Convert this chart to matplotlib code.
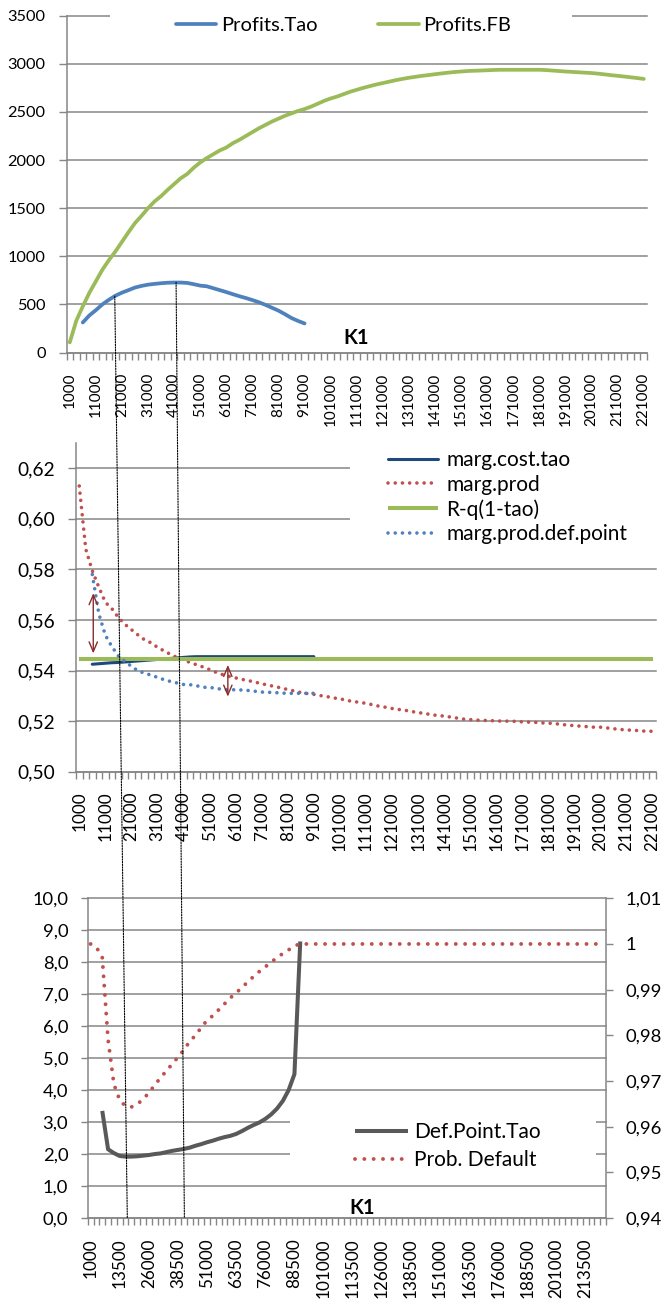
import numpy as np
import matplotlib.pyplot as plt
from matplotlib.patches import Rectangle, ConnectionPatch

plt.rcParams['font.family'] = ['Lato', 'DejaVu Sans']

W, H = 661, 1304
GRID = '#868686'
BLUE = '#4F81BD'
GREEN = '#9BBB59'
RED = '#C0504D'
NAVY = '#1F497D'
DARKGRAY = '#595959'
ARROW = '#8B2C2C'

# K1 categories (same for the three charts)
k1 = list(range(1000, 221001, 2500))
# series that only exist while the Tao contract is defined
k1_tao = list(range(6000, 91001, 2500))

profits_fb = [105, 330, 480, 620, 740, 860, 960, 1050, 1150, 1250,
              1345, 1420, 1500, 1570, 1625, 1690, 1750, 1810, 1855, 1920,
              1975, 2020, 2060, 2100, 2130, 2175, 2210, 2250, 2290, 2330,
              2365, 2400, 2430, 2460, 2485, 2510, 2530, 2555, 2585, 2615,
              2640, 2660, 2685, 2710, 2730, 2750, 2768, 2785, 2800, 2815,
              2830, 2843, 2855, 2865, 2875, 2883, 2892, 2900, 2908, 2915,
              2920, 2925, 2928, 2930, 2933, 2936, 2938, 2938, 2938, 2938,
              2938, 2938, 2938, 2935, 2930, 2925, 2920, 2916, 2912, 2908,
              2904, 2898, 2890, 2882, 2875, 2868, 2860, 2852, 2843]
profits_tao = [312, 385, 440, 500, 548, 590, 622, 648, 675, 692,
               705, 713, 720, 725, 727, 727, 723, 710, 695, 688,
               668, 648, 628, 606, 585, 566, 545, 522, 495, 465,
               435, 398, 358, 328, 302]

marg_cost_tao = [0.5425, 0.5427, 0.5429, 0.5431, 0.5432, 0.5434, 0.5436, 0.5438,
                 0.5440, 0.5442, 0.5444, 0.5446, 0.5448, 0.5450, 0.5452, 0.5454,
                 0.5455, 0.5455, 0.5455, 0.5455, 0.5455, 0.5455, 0.5455, 0.5455,
                 0.5455, 0.5455, 0.5455, 0.5455, 0.5455, 0.5455, 0.5455, 0.5455,
                 0.5455, 0.5455, 0.5455]
marg_prod = [0.613, 0.588, 0.5795, 0.573, 0.567, 0.5645, 0.561, 0.5583, 0.5562, 0.5541,
             0.5522, 0.551, 0.5492, 0.5478, 0.5464, 0.5452, 0.5442, 0.5432, 0.5423, 0.5414,
             0.5404, 0.5393, 0.5384, 0.5377, 0.5371, 0.5365, 0.536, 0.5354, 0.5348, 0.5342,
             0.5337, 0.5331, 0.5325, 0.5319, 0.5313, 0.5309, 0.5306, 0.5301, 0.5297, 0.5292,
             0.5288, 0.5283, 0.5277, 0.5275, 0.527, 0.5265, 0.5259, 0.5255, 0.525, 0.5246,
             0.5243, 0.5238, 0.5234, 0.523, 0.5226, 0.5222, 0.522, 0.5216, 0.5212, 0.5208,
             0.5206, 0.5204, 0.5203, 0.5202, 0.5201, 0.52, 0.52, 0.5199, 0.5197, 0.5196,
             0.5195, 0.5193, 0.5192, 0.519, 0.5187, 0.5184, 0.5182, 0.518, 0.5178, 0.5176,
             0.5176, 0.5173, 0.517, 0.5167, 0.5165, 0.5164, 0.5162, 0.516, 0.516]
r_q_tao = [0.5447] * len(k1)
marg_prod_def_point = [0.578, 0.5625, 0.554, 0.5495, 0.5458, 0.5436, 0.5417, 0.5399, 0.539, 0.5382,
                       0.5373, 0.5364, 0.5357, 0.5351, 0.5345, 0.5344, 0.534, 0.5334, 0.5333, 0.533,
                       0.5325, 0.5324, 0.5324, 0.5323, 0.5321, 0.5318, 0.5315, 0.5314, 0.5313, 0.5311,
                       0.531, 0.531, 0.531, 0.531, 0.531]

def_point_tao = [3.35, 2.15, 2.03, 1.94, 1.92, 1.92, 1.93, 1.95, 1.97, 2.0,
                 2.02, 2.06, 2.1, 2.13, 2.16, 2.2, 2.26, 2.31, 2.37, 2.42,
                 2.48, 2.53, 2.57, 2.63, 2.72, 2.82, 2.91, 2.99, 3.1, 3.24,
                 3.42, 3.66, 4.0, 4.5, 8.65]
prob_default = [1.0, 0.9993, 0.997, 0.979, 0.9693, 0.9658, 0.9645, 0.9643, 0.9649, 0.966,
                0.9674, 0.9691, 0.9707, 0.9722, 0.9737, 0.9752, 0.9768, 0.9786, 0.98, 0.9817,
                0.9833, 0.9843, 0.9856, 0.9869, 0.9882, 0.9893, 0.9905, 0.9917, 0.9929, 0.994,
                0.995, 0.996, 0.997, 0.9979, 0.9987, 0.9996] + [1.0] * 53

# hand drawn guides: (K1 on top chart, profit there, K1 on bottom chart)
guides = [(18250, 585, 16750), (41750, 728, 41250)]
# double arrows on the marginal chart: (K1, upper, lower)
gap_arrows = [(6375, 0.5706, 0.5468), (58000, 0.5422, 0.5297)]


def pos(values):
    return [k1.index(v) for v in values]


def kpos(k):
    return (k - k1[0]) / (k1[1] - k1[0])


def box(left, top, right, bottom):
    return [left / W, 1 - bottom / H, (right - left) / W, (bottom - top) / H]


def mask(ax, left, top, right, bottom):
    # white legend area hiding the gridlines behind it
    r = Rectangle((left / W, 1 - bottom / H), (right - left) / W, (bottom - top) / H,
                  transform=ax.figure.transFigure, facecolor='white', edgecolor='none',
                  zorder=1.5, clip_on=False)
    ax.add_patch(r)


def styleAxes(ax, ylim, yticks, ylabels, every, fs_x, fs_y):
    n = len(k1)
    ax.set_xlim(-0.5, n - 0.5)
    ax.set_ylim(*ylim)
    ax.set_yticks(yticks)
    ax.set_yticklabels(ylabels)
    ax.set_xticks(np.arange(-0.5, n, 1.0))
    ax.set_xticklabels([])
    idx = list(range(0, n, every))
    ax.set_xticks(idx, minor=True)
    ax.set_xticklabels([str(k1[i]) for i in idx], minor=True)
    ax.tick_params(axis='x', which='major', length=5, width=1, color=GRID)
    ax.tick_params(axis='x', which='minor', length=0, pad=14.5, labelsize=fs_x,
                   labelrotation=90)
    ax.tick_params(axis='y', length=6, width=1, color=GRID, labelsize=fs_y, pad=9)
    ax.grid(axis='y', color=GRID, lw=1.1)
    for g in ax.yaxis.get_gridlines():
        g.set_clip_on(False)
    ax.set_axisbelow(True)
    for s in ['top', 'right']:
        ax.spines[s].set_visible(False)
    for s in ['left', 'bottom']:
        ax.spines[s].set_color(GRID)
        ax.spines[s].set_linewidth(1.1)


fig = plt.figure(figsize=(W / 100, H / 100), dpi=100)

# ---- profits ----
ax1 = fig.add_axes(box(66.5, 15.7, 647, 352.5))
styleAxes(ax1, (0, 3500), list(range(0, 3501, 500)),
          [str(v) for v in range(0, 3501, 500)], 4, 11, 11.8)
ax1.plot(pos(k1_tao), profits_tao, color=BLUE, lw=2.7, solid_capstyle='round',
         solid_joinstyle='round', label='Profits.Tao')
ax1.plot(pos(k1), profits_fb, color=GREEN, lw=2.7, solid_capstyle='round',
         solid_joinstyle='round', label='Profits.FB')
mask(ax1, 110, 4, 572, 48)
ax1.legend(loc='upper left', bbox_to_anchor=(176 / W, 1 - 17 / H),
           bbox_transform=fig.transFigure, ncol=2, frameon=False, fontsize=14.5,
           borderpad=0, borderaxespad=0, handlelength=2.0, handletextpad=0.25,
           columnspacing=3.0)
ax1.text(0.499, 0.012, 'K1', transform=ax1.transAxes, ha='center', va='bottom',
         fontsize=14.5, fontweight='bold')

# ---- marginal values ----
ax2 = fig.add_axes(box(76, 443, 656, 771.7))
mid_ticks = [0.50, 0.52, 0.54, 0.56, 0.58, 0.60, 0.62]
styleAxes(ax2, (0.50, 0.63), mid_ticks, [f'{v:.2f}'.replace('.', ',') for v in mid_ticks],
          4, 12.3, 13.8)
dot_mid = (0, (0.001, 2.0))
ax2.plot(pos(k1_tao), marg_cost_tao, color=NAVY, lw=2.2, solid_capstyle='round',
         label='marg.cost.tao')
ax2.plot(pos(k1), marg_prod, color=RED, lw=2.6, linestyle=dot_mid,
         dash_capstyle='round', label='marg.prod')
ax2.plot(pos(k1), r_q_tao, color=GREEN, lw=2.9, solid_capstyle='butt', label='R-q(1-tao)')
ax2.plot(pos(k1_tao), marg_prod_def_point, color=BLUE, lw=2.6, linestyle=dot_mid,
         dash_capstyle='round', label='marg.prod.def.point')
for k, top, bot in gap_arrows:
    ax2.annotate('', xy=(kpos(k), top), xytext=(kpos(k), bot),
                 arrowprops=dict(arrowstyle='<->,head_length=0.7,head_width=0.3',
                                 color=ARROW, lw=1.0, shrinkA=0, shrinkB=0), zorder=6)
mask(ax2, 350, 446, 657, 563)
ax2.legend(loc='upper left', bbox_to_anchor=(388 / W, 1 - 450 / H),
           bbox_transform=fig.transFigure, frameon=False, fontsize=15,
           borderpad=0, borderaxespad=0, handlelength=2.4, handletextpad=0.4,
           labelspacing=0.22)

# paper behind the third chart
fig.add_artist(Rectangle((0, 0), 1, 1 - 851 / H, transform=fig.transFigure,
                         facecolor='white', edgecolor='none', zorder=1))

# ---- default point / probability ----
ax3 = fig.add_axes(box(87.7, 898.3, 606, 1218))
ax3.set_zorder(2)
left_ticks = list(range(0, 11))
styleAxes(ax3, (0, 10), left_ticks, [f'{v:.1f}'.replace('.', ',') for v in left_ticks],
          5, 12.3, 13.2)
ax3.tick_params(axis='y', length=5)
ax3.plot(pos(k1_tao), def_point_tao, color=DARKGRAY, lw=2.9, solid_capstyle='butt',
         solid_joinstyle='round', label='Def.Point.Tao')
mask(ax3, 290, 1113, 596, 1179)

ax3r = ax3.twinx()
ax3r.set_zorder(3)
right_ticks = [0.94, 0.95, 0.96, 0.97, 0.98, 0.99, 1.00, 1.01]
ax3r.set_ylim(0.94, 1.01)
ax3r.set_yticks(right_ticks)
ax3r.set_yticklabels(['0,94', '0,95', '0,96', '0,97', '0,98', '0,99', '1', '1,01'])
ax3r.tick_params(axis='y', length=5, width=1, color=GRID, labelsize=13.3, pad=9)
for s in ['top', 'left', 'bottom']:
    ax3r.spines[s].set_visible(False)
ax3r.spines['right'].set_color(GRID)
ax3r.spines['right'].set_linewidth(1.1)
ax3.spines['right'].set_visible(False)
ax3r.plot(pos(k1), prob_default, color=RED, lw=2.8, linestyle=(0, (0.001, 2.4)),
          dash_capstyle='round', label='Prob. Default')
h1, l1 = ax3.get_legend_handles_labels()
h2, l2 = ax3r.get_legend_handles_labels()
ax3r.legend(h1 + h2, l1 + l2, loc='upper left', bbox_to_anchor=(355 / W, 1 - 1122 / H),
            bbox_transform=fig.transFigure, frameon=False, fontsize=15,
            borderpad=0, borderaxespad=0, handlelength=2.55, handletextpad=0.3,
            labelspacing=0.4)
ax3.text(0.529, 0.0, 'K1', transform=ax3.transAxes, ha='center', va='bottom',
         fontsize=14.5, fontweight='bold', zorder=5)

# dotted guides running from the profit curve down to the last chart
for ktop, vtop, kbot in guides:
    con = ConnectionPatch(xyA=(kpos(ktop), vtop), coordsA=ax1.transData,
                          xyB=(kpos(kbot), 0), coordsB=ax3.transData,
                          color='black', lw=0.8, linestyle=(0, (1.2, 1.2)), zorder=10)
    fig.add_artist(con)

fig.savefig('out.png', dpi=100, facecolor='white')
